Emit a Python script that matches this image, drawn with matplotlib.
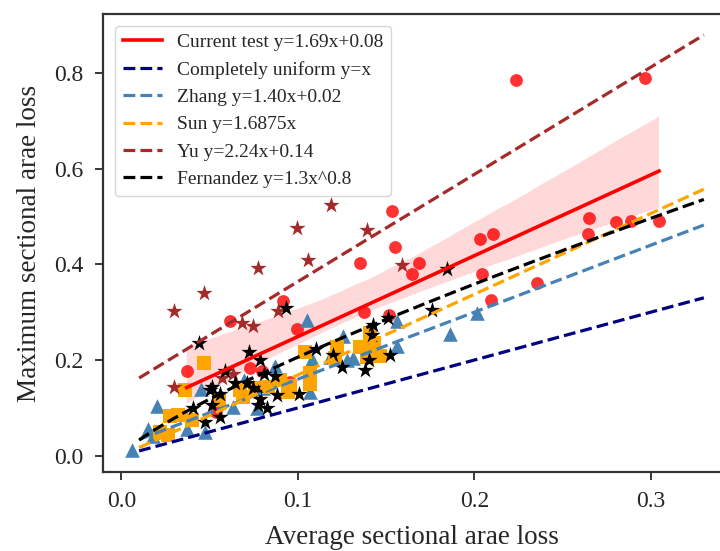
import numpy as np
import matplotlib
matplotlib.use("Agg")
import matplotlib.pyplot as plt
import seaborn as sns

plt.rcParams['font.family'] = ['Liberation Serif', 'DejaVu Serif']

# Current test (red circles)
cur_x = [0.037, 0.0536, 0.0615, 0.0729, 0.0795, 0.0914, 0.0955, 0.0993, 0.1352, 0.1376,
         0.1514, 0.1531, 0.1552, 0.1648, 0.1686, 0.2032, 0.2104, 0.2043, 0.2094, 0.2236,
         0.2356, 0.2649, 0.2645, 0.2802, 0.2887, 0.2967, 0.3046]
cur_y = [0.176, 0.092, 0.281, 0.184, 0.178, 0.324, 0.155, 0.265, 0.402, 0.300,
         0.294, 0.511, 0.437, 0.379, 0.402, 0.452, 0.464, 0.380, 0.326, 0.785,
         0.360, 0.497, 0.463, 0.489, 0.490, 0.789, 0.490]

# Zhang (steelblue triangles)
zhang_x = [0.0058, 0.0152, 0.0177, 0.020, 0.037, 0.0449, 0.0476, 0.063, 0.0695, 0.0766,
           0.0804, 0.087, 0.1053, 0.1078, 0.1069, 0.1182, 0.1257, 0.1277, 0.1314, 0.1440,
           0.156, 0.156, 0.186, 0.2013]
zhang_y = [0.012, 0.055, 0.042, 0.104, 0.056, 0.140, 0.050, 0.101, 0.158, 0.099,
           0.141, 0.188, 0.284, 0.202, 0.134, 0.207, 0.251, 0.200, 0.204, 0.221,
           0.282, 0.230, 0.254, 0.298]

# Sun (orange squares)
sun_x = [0.0219, 0.0266, 0.0275, 0.0322, 0.036, 0.0398, 0.0468, 0.055, 0.0672, 0.069,
         0.0757, 0.0832, 0.0899, 0.0946, 0.0955, 0.104, 0.107, 0.107, 0.122, 0.121,
         0.135, 0.141, 0.1465, 0.139, 0.143]
sun_y = [0.050, 0.043, 0.082, 0.085, 0.137, 0.075, 0.193, 0.116, 0.137, 0.123,
         0.141, 0.144, 0.158, 0.134, 0.145, 0.217, 0.172, 0.150, 0.228, 0.204,
         0.228, 0.256, 0.208, 0.207, 0.235]

# Yu (brown stars)
yu_x = [0.119, 0.0993, 0.139, 0.1055, 0.0776, 0.159, 0.0468, 0.0298, 0.0886, 0.0682,
        0.0744, 0.0298, 0.0568, 0.063]
yu_y = [0.524, 0.475, 0.472, 0.409, 0.392, 0.399, 0.341, 0.302, 0.302, 0.277,
        0.272, 0.144, 0.163, 0.170]

# Fernandez (black stars)
fer_x = [0.0408, 0.0441, 0.0474, 0.0502, 0.0512, 0.0512, 0.0559, 0.0559, 0.0587, 0.0644,
         0.071, 0.0725, 0.0747, 0.0776, 0.0785, 0.0785, 0.0776, 0.0823, 0.0808, 0.087,
         0.088, 0.0933, 0.1005, 0.110, 0.120, 0.125, 0.138, 0.140, 0.1418, 0.1427,
         0.151, 0.152, 0.1758, 0.1845]
fer_y = [0.100, 0.236, 0.071, 0.137, 0.144, 0.106, 0.130, 0.080, 0.177, 0.151,
         0.151, 0.216, 0.141, 0.134, 0.200, 0.118, 0.106, 0.100, 0.170, 0.167,
         0.126, 0.309, 0.130, 0.222, 0.210, 0.186, 0.180, 0.200, 0.252, 0.273,
         0.287, 0.211, 0.304, 0.391]

# Fitted / reference formulas (coefficients from legend)
cur_slope, cur_icpt = 1.69, 0.08
x_min, x_max = 0.01, 0.33
labels = ["Current test y=1.69x+0.08", "Completely uniform y=x", "Zhang y=1.40x+0.02",
          "Sun y=1.6875x", "Yu y=2.24x+0.14", "Fernandez y=1.3x^0.8"]

fig = plt.figure(figsize=(7.2, 5.51), dpi=100)
ax = fig.add_axes([103.3 / 720, 1 - 472 / 551, (721.5 - 103.3) / 720, (472 - 14) / 551])

ax.scatter(cur_x, cur_y, marker='o', s=85, color='red', alpha=0.8, linewidths=0, zorder=3)
ax.scatter(zhang_x, zhang_y, marker='^', s=110, color='steelblue', linewidths=0, zorder=3)
ax.scatter(sun_x, sun_y, marker='s', s=115, color='orange', linewidths=0, zorder=3)
ax.scatter(yu_x, yu_y, marker='*', s=150, color='brown', linewidths=0, zorder=3)
ax.scatter(fer_x, fer_y, marker='*', s=150, color='black', linewidths=0, zorder=3)

# confidence band of the regression (line itself hidden; drawn from legend formula)
sns.regplot(x=np.array(cur_x), y=np.array(cur_y), scatter=False, ci=95, color='red',
            seed=1, ax=ax, line_kws=dict(alpha=0))
cx = np.linspace(min(cur_x), max(cur_x), 100)
ax.plot(cx, cur_slope * cx + cur_icpt, '-', color='red', lw=2.6, label=labels[0], zorder=4)

xx = np.linspace(x_min, x_max, 200)
ax.plot(xx, xx, '--', color='navy', lw=2.3, label=labels[1], zorder=4)
ax.plot(xx, 1.40 * xx + 0.02, '--', color='steelblue', lw=2.3, label=labels[2], zorder=4)
ax.plot(xx, 1.6875 * xx, '--', color='orange', lw=2.3, label=labels[3], zorder=4)
ax.plot(xx, 2.24 * xx + 0.14, '--', color='brown', lw=2.3, label=labels[4], zorder=4)
ax.plot(xx, 1.3 * xx ** 0.8, '--', color='black', lw=2.3, label=labels[5], zorder=4)

ax.set_xlim(-0.0103, 0.340)
ax.set_ylim(-0.034, 0.923)
ax.set_xticks([0.0, 0.1, 0.2, 0.3])
ax.set_yticks([0.0, 0.2, 0.4, 0.6, 0.8])
ax.tick_params(direction='out', length=6, width=1.3, labelsize=17, color='0.15',
               labelcolor='0.15', pad=8)
for sp in ax.spines.values():
    sp.set_linewidth(1.6)
    sp.set_color('0.2')

ax.set_xlabel("Average sectional arae loss", fontsize=19.5, color='0.15', labelpad=9)
ax.set_ylabel("Maximum sectional arae loss", fontsize=19.5, color='0.15', labelpad=9)

handles, labs = ax.get_legend_handles_labels()
order = [labs.index(l) for l in labels]
ax.legend([handles[i] for i in order], [labs[i] for i in order],
          loc='upper left', fontsize=14, frameon=True, handlelength=2.0,
          borderaxespad=0.6, labelcolor='0.15')

fig.savefig("out.png", dpi=100)
